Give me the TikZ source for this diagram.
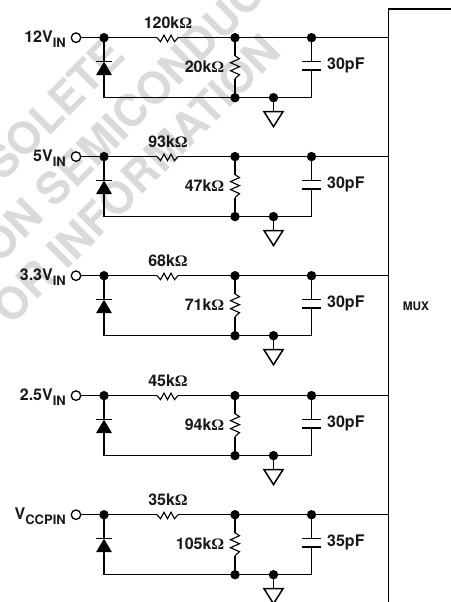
\documentclass[tikz,border=0pt]{standalone}
\usepackage{fontspec}
\usetikzlibrary{calc}
\setmainfont{TeX Gyre Heros}
\newfontfamily\ohmfont{Liberation Serif}
\newcommand\Ohmsym{{\ohmfont\bfseries Ω}}
\newcommand\vlab[2]{#1\raisebox{-0.32em}{\fontsize{13bp}{13bp}\selectfont #2}}
\definecolor{wm}{HTML}{DADADA}
\tikzset{
  wire/.style={line width=1.5bp,black,line join=miter},
  thin wire/.style={line width=1.1bp,black,line join=miter},
  jdot/.style={circle,fill=black,inner sep=0pt,minimum size=9.4bp},
  pin/.style={circle,draw=black,line width=1.3bp,fill=white,inner sep=0pt,minimum size=9.5bp},
  lab/.style={font=\fontsize{16bp}{17bp}\selectfont\bfseries,inner sep=0pt,text=black!90},
  watermark/.style={font=\fontsize{44bp}{44bp}\selectfont\bfseries,text=wm,rotate=45,anchor=west,inner sep=0pt},
}
\begin{document}
\begin{tikzpicture}[x=1bp,y=-1bp]
\useasboundingbox (0,0) rectangle (451,602);
\clip (0,0) rectangle (451,602);
\fill[white] (0,0) rectangle (451,602);
% watermark
\node[watermark] (wa) at (-55,218) {OBSOLETE};
\node[watermark] (wb) at (-12,254) {ON SEMICONDUCTOR};
\node[watermark] (wc) at (0,315) {OR INFORMATION};
% MUX block
\coordinate (mt) at (388.3,9);
\coordinate (mr) at (455,9);
\coordinate (mb) at (388.3,606);
\draw[wire] (mr) -- (mt) -- (mb);
\node[font=\fontsize{11.8bp}{12bp}\selectfont\bfseries,inner sep=0pt,text=black!90] (mux) at (416,306) {MUX};
% input channels
\foreach \i/\y/\lab/\ra/\rb/\cp in {
  1/37.7/{\vlab{12V}{IN}}/120/20/30,
  2/156.6/{\vlab{5V}{IN}}/93/47/30,
  3/275.7/{\vlab{3.3V}{IN}}/68/71/30,
  4/395.6/{\vlab{2.5V}{IN}}/45/94/30,
  5/514.7/{\vlab{V}{CCPIN}}/35/105/35}{
  \begin{scope}[shift={(0,\y)}]
    \node[pin] (p\i) at (76,0) {};
    \node[jdot] (a\i) at (104,0) {};
    \node[jdot] (b\i) at (235,0) {};
    \node[jdot] (c\i) at (311.5,0) {};
    \coordinate (m\i) at (388.3,0);
    \coordinate (d\i) at (104,60);
    \node[jdot] (e\i) at (235,60) {};
    \node[jdot] (g\i) at (273.5,60) {};
    \coordinate (f\i) at (311.5,60);
    \coordinate (rl\i) at (157,0);
    \coordinate (rr\i) at (178,0);
    \coordinate (vt\i) at (235,18);
    \coordinate (vb\i) at (235,41);
    \coordinate (dk\i) at (104,24);
    \coordinate (da\i) at (104,37);
    \coordinate (cu\i) at (311.5,24);
    \coordinate (cl\i) at (311.5,32.5);
    \coordinate (gt\i) at (273.5,74);
    % top rail
    \draw[wire] (p\i) -- (a\i.center) -- (rl\i);
    \draw[wire] (rr\i) -- (b\i.center) -- (c\i.center) -- (m\i);
    \draw[thin wire] (rl\i) -- ++(3.5,4) -- ++(3.5,-6.5) -- ++(3.5,6.5) -- ++(3.5,-6.5) -- ++(3.5,6.5) -- ++(3.5,-4);
    % divider resistor
    \draw[wire] (b\i.center) -- (vt\i);
    \draw[wire] (vb\i) -- (e\i.center);
    \draw[thin wire] (vt\i) -- ++(4.5,3) -- ++(-9,4) -- ++(9,4) -- ++(-9,4) -- ++(9,4) -- ++(-4.5,4);
    % diode
    \draw[wire] (a\i.center) -- (dk\i);
    \draw[wire] (da\i) -- (d\i) -- (e\i.center) -- (g\i.center) -- (f\i) -- (cl\i);
    \fill[black] (dk\i) -- ++(8,13.5) -- ++(-16,0) -- cycle;
    \draw[wire] ($(dk\i)+(-8,0)$) -- ($(dk\i)+(8,0)$);
    % capacitor
    \draw[wire] (c\i.center) -- (cu\i);
    \draw[wire] ($(cu\i)+(-9.5,0)$) -- ($(cu\i)+(9.5,0)$);
    \draw[wire] ($(cl\i)+(-9.5,0)$) -- ($(cl\i)+(9.5,0)$);
    % ground
    \draw[wire] (g\i.center) -- (gt\i);
    \draw[wire] ($(gt\i)+(-9.5,0)$) -- ($(gt\i)+(9.5,0)$) -- ($(gt\i)+(0,15)$) -- cycle;
    % labels
    \node[lab,anchor=east] (lp\i) at (66,1.5) {\lab};
    \node[lab] (lr\i) at (168,-14.5) {\ra k\Ohmsym};
    \node[lab,anchor=east] (lv\i) at (224.5,29.3) {\rb k\Ohmsym};
    \node[lab,anchor=west] (lc\i) at (327,28) {\cp pF};
  \end{scope}
}
\end{tikzpicture}
\end{document}
